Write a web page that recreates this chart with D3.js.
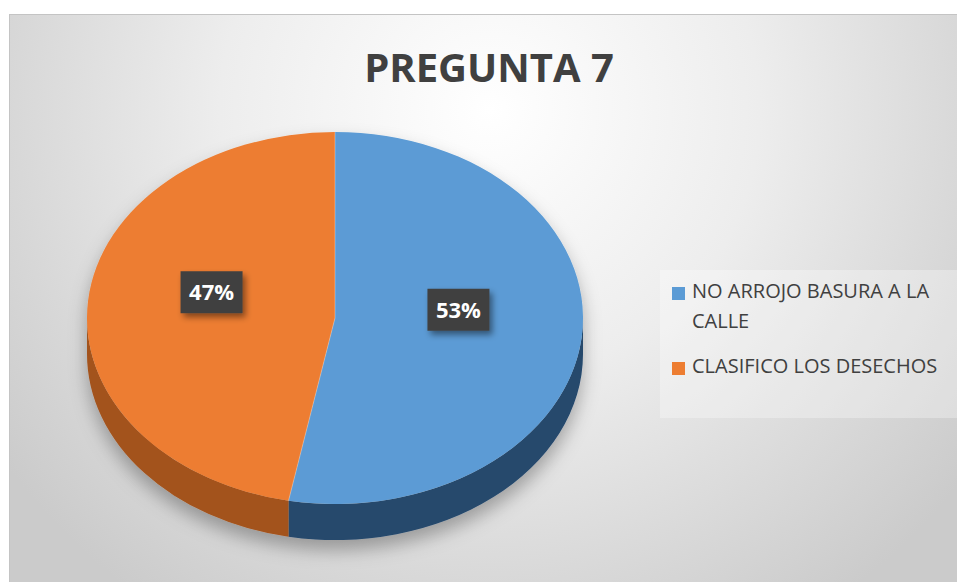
<!DOCTYPE html>
<html>
<head>
<meta charset="utf-8">
<script src="https://cdn.jsdelivr.net/npm/d3@7"></script>
<style>
  html, body { margin: 0; padding: 0; background: #ffffff; }
  svg { display: block; }
</style>
</head>
<body>
<div id="chart"></div>
<script>
// data
const title = "PREGUNTA 7";
const categories = ["NO ARROJO BASURA A LA CALLE", "CLASIFICO LOS DESECHOS"];
const values = [53, 47];
const colors = ["#5B9BD5", "#ED7D31"];
const sideColors = ["#25486c", "#a3521b"];

let width = 957;
let height = 582;

let svg = d3.select("#chart").append("svg")
    .attr("width", width).attr("height", height)
    .style("font-family", "'Open Sans', 'Noto Sans', sans-serif");

let defs = svg.append("defs");

// background gradient of the chart area
let bg = defs.append("radialGradient").attr("id", "bg")
    .attr("gradientUnits", "userSpaceOnUse")
    .attr("cx", 490).attr("cy", 110).attr("r", 600);
bg.append("stop").attr("offset", "0%").attr("stop-color", "#ffffff");
bg.append("stop").attr("offset", "45%").attr("stop-color", "#ededed");
bg.append("stop").attr("offset", "100%").attr("stop-color", "#cbcbcb");

let pieShadow = defs.append("filter").attr("id", "pieShadow")
    .attr("x", "-20%").attr("y", "-20%").attr("width", "140%").attr("height", "150%");
pieShadow.append("feDropShadow").attr("dx", 0).attr("dy", 10)
    .attr("stdDeviation", 9).attr("flood-color", "#000").attr("flood-opacity", 0.3);

let boxShadow = defs.append("filter").attr("id", "boxShadow")
    .attr("x", "-30%").attr("y", "-30%").attr("width", "170%").attr("height", "180%");
boxShadow.append("feDropShadow").attr("dx", 3).attr("dy", 4)
    .attr("stdDeviation", 3).attr("flood-color", "#000").attr("flood-opacity", 0.45);

svg.append("rect")
    .attr("x", 9.5).attr("y", 14.5)
    .attr("width", width).attr("height", height)
    .attr("fill", "url(#bg)").attr("stroke", "#c4c4c4");

// title
svg.append("text")
    .attr("x", 489).attr("y", 82)
    .attr("text-anchor", "middle")
    .attr("font-size", 40).attr("font-weight", 700)
    .attr("fill", "#404040")
    .text(title);

// 3D pie geometry
let cx = 335, cy = 318, rx = 248, ry = 186, depth = 36;
let labelK = 0.5, labelShift = -17;

let pie = d3.pie().sort(null).value(d => d)(values);

function pt(a, dy = 0) {
    return [cx + rx * Math.sin(a), cy - ry * Math.cos(a) + dy];
}

function topPath(d) {
    let p0 = pt(d.startAngle), p1 = pt(d.endAngle);
    let large = (d.endAngle - d.startAngle) > Math.PI ? 1 : 0;
    return `M${cx},${cy}L${p0}A${rx},${ry} 0 ${large} 1 ${p1}Z`;
}

function sidePath(d) {
    let a0 = Math.max(d.startAngle, Math.PI / 2);
    let a1 = Math.min(d.endAngle, 3 * Math.PI / 2);
    if (a1 <= a0) return null;
    let p0 = pt(a0), p1 = pt(a1), q0 = pt(a0, depth), q1 = pt(a1, depth);
    return `M${p0}A${rx},${ry} 0 0 1 ${p1}L${q1}A${rx},${ry} 0 0 0 ${q0}Z`;
}

let gPie = svg.append("g").attr("filter", "url(#pieShadow)");

gPie.selectAll(".side").data(pie.filter(d => sidePath(d)))
    .join("path").attr("class", "side")
    .attr("d", sidePath)
    .attr("fill", d => sideColors[d.index]);

gPie.selectAll(".top").data(pie)
    .join("path").attr("class", "top")
    .attr("d", topPath)
    .attr("fill", d => colors[d.index]);

// faint highlight on slice boundaries
svg.append("g").selectAll("line").data(pie)
    .join("line")
    .attr("x1", cx).attr("y1", cy)
    .attr("x2", d => pt(d.startAngle)[0]).attr("y2", d => pt(d.startAngle)[1])
    .attr("stroke", "#ffffff").attr("stroke-opacity", 0.3).attr("stroke-width", 1);

// data labels
let gLab = svg.append("g").selectAll("g").data(pie).join("g")
    .attr("transform", d => {
        let m = (d.startAngle + d.endAngle) / 2;
        let x = cx + rx * labelK * Math.sin(m);
        let y = cy - ry * labelK * Math.cos(m) + labelShift;
        return `translate(${x},${y})`;
    });

gLab.append("rect")
    .attr("x", -31).attr("y", -21)
    .attr("width", 62).attr("height", 42)
    .attr("fill", "#404040")
    .attr("filter", "url(#boxShadow)");

gLab.append("text")
    .attr("text-anchor", "middle")
    .attr("dy", "0.36em")
    .attr("font-size", 22).attr("font-weight", 700)
    .attr("fill", "#ffffff")
    .text(d => Math.round(d.value / d3.sum(values) * 100) + "%");

// legend
svg.append("rect")
    .attr("x", 660).attr("y", 270)
    .attr("width", 297).attr("height", 148)
    .attr("fill", "#ffffff").attr("fill-opacity", 0.3);

let maxLegendW = 256;
let lineH = 30;
let legendY = 298;
let legend = svg.append("g");

categories.forEach((c, i) => {
    legend.append("rect")
        .attr("x", 672).attr("y", legendY - 11)
        .attr("width", 13).attr("height", 13)
        .attr("fill", colors[i]);

    let t = legend.append("text")
        .attr("x", 692).attr("y", legendY)
        .attr("font-size", 20).attr("fill", "#404040");

    // simple word wrap
    let words = c.split(" ");
    let line = [];
    let tspan = t.append("tspan").attr("x", 692).attr("y", legendY);
    let lines = 1;
    words.forEach(w => {
        line.push(w);
        tspan.text(line.join(" "));
        if (tspan.node().getComputedTextLength() > maxLegendW && line.length > 1) {
            line.pop();
            tspan.text(line.join(" "));
            line = [w];
            tspan = t.append("tspan").attr("x", 692).attr("y", legendY + lines * lineH).text(w);
            lines++;
        }
    });
    legendY += lines * lineH + 15;
});
</script>
</body>
</html>
